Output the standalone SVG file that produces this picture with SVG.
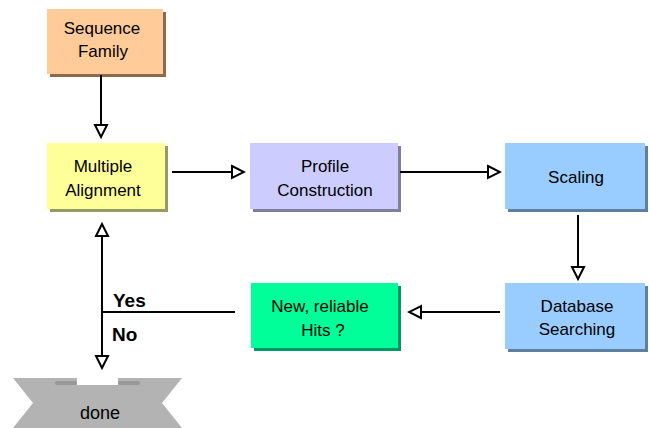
<svg xmlns="http://www.w3.org/2000/svg" width="649" height="428" viewBox="0 0 649 428">
<style>
text{font-family:"Liberation Sans",Arial,sans-serif;font-size:17px;fill:#000;text-anchor:middle}
.b{font-weight:bold;font-size:19px;text-anchor:start}
.ln{stroke:#000;stroke-width:2;fill:none}
</style>
<defs>
<marker id="ah" markerUnits="userSpaceOnUse" markerWidth="16" markerHeight="16" viewBox="-2 -2 16 16" refX="11" refY="6" orient="auto">
<path d="M0,0 L12,6 L0,12 Z" fill="#fff" stroke="#000" stroke-width="2" stroke-linejoin="miter"/>
</marker>
</defs>
<rect width="649" height="428" fill="#fff"/>
<g id="seq">
<rect x="50" y="12" width="116" height="65" fill="#8c6a4a"/>
<rect x="47" y="9" width="116" height="65" fill="#FFCC99"/>
<text x="102" y="34">Sequence</text>
<text x="103" y="57">Family</text>
</g>
<g id="msa">
<rect x="50" y="146" width="118" height="66" fill="#999966"/>
<rect x="47" y="143" width="118" height="66" fill="#FFFF99"/>
<text x="103" y="172">Multiple</text>
<text x="103" y="196">Alignment</text>
</g>
<g id="profile">
<rect x="253" y="146" width="148" height="66" fill="#7f7f99"/>
<rect x="250" y="143" width="148" height="66" fill="#CCCCFF"/>
<text x="325" y="172">Profile</text>
<text x="325" y="196">Construction</text>
</g>
<g id="scaling">
<rect x="508" y="146" width="140" height="66" fill="#5f7f9f"/>
<rect x="505" y="143" width="140" height="66" fill="#99CCFF"/>
<text x="576" y="183">Scaling</text>
</g>
<g id="db">
<rect x="508" y="286" width="140" height="66" fill="#5f7f9f"/>
<rect x="505" y="283" width="140" height="66" fill="#99CCFF"/>
<text x="577" y="312">Database</text>
<text x="577" y="335">Searching</text>
</g>
<g id="hits">
<rect x="254" y="286" width="147" height="65" fill="#009966"/>
<rect x="251" y="283" width="147" height="65" fill="#00FF99"/>
<text x="320" y="312">New, reliable</text>
<text x="323" y="336">Hits ?</text>
</g>
<g id="done">
<path d="M13,378 L77,378 L77,385 L118,385 L118,378 L182,378 L162,403 L182,428 L13,428 L33,403 Z" fill="#b3b3b3"/>
<rect x="55" y="381" width="22" height="4" rx="2" fill="#999"/>
<rect x="118" y="381" width="22" height="4" rx="2" fill="#999"/>
<text x="100" y="419" style="font-size:18px">done</text>
</g>
<g id="connectors">
<line class="ln" x1="101" y1="75" x2="101" y2="136" marker-end="url(#ah)"/>
<line class="ln" x1="172" y1="172" x2="243" y2="172" marker-end="url(#ah)"/>
<line class="ln" x1="400" y1="172" x2="499" y2="172" marker-end="url(#ah)"/>
<line class="ln" x1="578" y1="215" x2="578" y2="278" marker-end="url(#ah)"/>
<line class="ln" x1="500" y1="312" x2="410" y2="312" marker-end="url(#ah)"/>
<line class="ln" x1="102" y1="312" x2="102" y2="225" marker-end="url(#ah)"/>
<line class="ln" x1="102" y1="312" x2="102" y2="367" marker-end="url(#ah)"/>
<line class="ln" x1="101" y1="312" x2="235" y2="312"/>
<text class="b" x="113" y="307">Yes</text>
<text class="b" x="112" y="341">No</text>
</g>
</svg>
